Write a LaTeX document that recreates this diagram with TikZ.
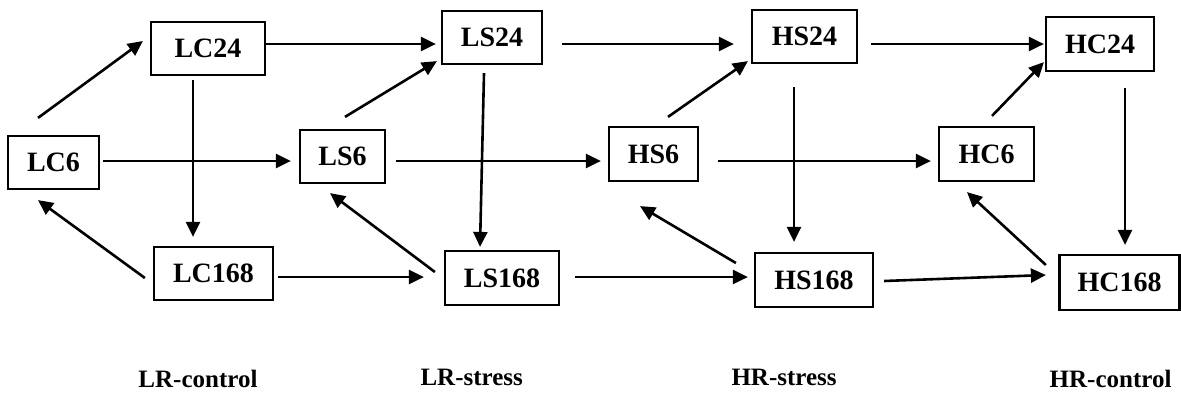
\documentclass[tikz,border=0pt]{standalone}
\usepackage{fontspec}
\setmainfont{Liberation Serif}
\usetikzlibrary{arrows.meta}

\begin{document}
\begin{tikzpicture}[x=1pt, y=-1pt,
  box/.style={draw, line width=2.2pt, inner sep=0pt, minimum height=53pt, font=\fontsize{28}{32}\selectfont\bfseries},
  arr/.style={line width=2.6pt, -{Triangle[length=15pt,width=14pt]}},
  grp/.style={font=\fontsize{25}{30}\selectfont\bfseries}]

\useasboundingbox (0,0) rectangle (1181,400);

% low rainfall
\node[box, minimum width=91pt] (LC6) at (53.5,162.5) {LC6};
\node[box, minimum width=114pt] (LC24) at (208,48.5) {LC24};
\node[box, minimum width=119pt] (LC168) at (213.5,273.5) {LC168};
\node[box, minimum width=85pt] (LS6) at (342.5,156.5) {LS6};
\node[box, minimum width=100pt] (LS24) at (492,37.5) {LS24};
\node[box, minimum width=114pt, minimum height=54pt] (LS168) at (502,278) {LS168};
% high rainfall
\node[box, minimum width=89pt, minimum height=54pt] (HS6) at (653.5,154) {HS6};
\node[box, minimum width=105pt] (HS24) at (804.5,36.5) {HS24};
\node[box, minimum width=118pt, minimum height=54pt] (HS168) at (814,280) {HS168};
\node[box, minimum width=95pt, minimum height=54pt] (HC6) at (986.5,154) {HC6};
\node[box, minimum width=108pt, minimum height=54pt] (HC24) at (1100,44) {HC24};
\node[box, minimum width=120pt, minimum height=55pt] (HC168) at (1119.5,282.5) {HC168};

\node[grp, anchor=base east] (gLC) at (261,387) {LR-control};
\node[grp, anchor=base west] (gLS) at (417,385) {LR-stress};
\node[grp, anchor=base west] (gHS) at (728,385) {HR-stress};
\node[grp, anchor=base east] (gHC) at (1175,387) {HR-control};

% LR-control
\draw[arr] ([shift={(-15.5,-17)}]LC6.north) -- ([shift={(-7,-7.5)}]LC24.west);
\draw[arr] ([shift={(-15,4)}]LC24.south) -- ([shift={(-20.5,-9)}]LC168.north);
\draw[arr] ([shift={(-8,4.5)}]LC168.west) -- ([shift={(-15.5,10)}]LC6.south);
\draw[arr] ([shift={(0,-4.5)}]LC24.east) -- ([shift={(-5,6.5)}]LS24.west);
\draw[arr] ([shift={(3,-1.5)}]LC6.east) -- ([shift={(-8,4.5)}]LS6.west);
\draw[arr] ([shift={(4,3.5)}]LC168.east) -- ([shift={(-20,-1)}]LS168.west);

% LR-stress
\draw[arr] ([shift={(2.5,-12)}]LS6.north) -- ([shift={(-4,-4)}]LS24.south west);
\draw[arr] ([shift={(-8,8)}]LS24.south) -- ([shift={(-22,-3)}]LS168.north);
\draw[arr] ([shift={(-9,-6)}]LS168.west) -- ([shift={(-12.5,9)}]LS6.south);
\draw[arr] ([shift={(19,6.5)}]LS24.east) -- ([shift={(-17,7.5)}]HS24.west);
\draw[arr] ([shift={(10,4.5)}]LS6.east) -- ([shift={(-7,7)}]HS6.west);
\draw[arr] ([shift={(15,-1)}]LS168.east) -- ([shift={(-6,-3)}]HS168.west);

% HR-stress
\draw[arr] ([shift={(14.5,-9)}]HS6.north) -- ([shift={(-3,-3)}]HS24.south west);
\draw[arr] ([shift={(-10.5,23)}]HS24.south) -- ([shift={(-20,-10)}]HS168.north);
\draw[arr] ([shift={(-18,-17)}]HS168.west) -- ([shift={(-13.5,24)}]HS6.south);
\draw[arr] ([shift={(13,7.5)}]HS24.east) -- ([shift={(-1,0)}]HC24.west);
\draw[arr] ([shift={(19,7)}]HS6.east) -- ([shift={(-7,7)}]HC6.west);
\draw[arr] ([shift={(10,1)}]HS168.east) -- ([shift={(-12.5,-7.5)}]HC168.west);

% HR-control
\draw[arr] ([shift={(5.5,-10)}]HC6.north) -- ([shift={(-1,-10)}]HC24.south west);
\draw[arr] ([shift={(25,16)}]HC24.south) -- ([shift={(5.5,-9)}]HC168.north);
\draw[arr] ([shift={(-12.5,-17.5)}]HC168.west) -- ([shift={(-19.5,10)}]HC6.south);

\end{tikzpicture}
\end{document}
